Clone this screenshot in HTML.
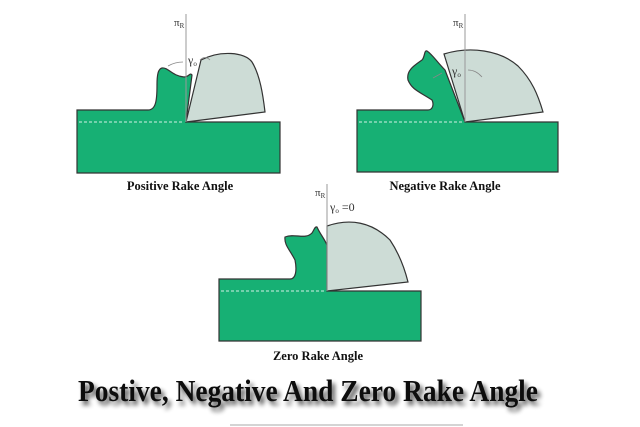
<!DOCTYPE html>
<html><head><meta charset="utf-8"><style>
body{margin:0;background:#fff;width:640px;height:427px;overflow:hidden;position:relative}
svg{position:absolute;left:0;top:0}
.t{font-family:"Liberation Serif",serif;font-weight:bold;fill:#111}
</style></head><body>
<svg width="640" height="427" viewBox="0 0 640 427">
<g stroke="#333" stroke-width="1.2">
<!-- Positive -->
<path d="M77,110 L148,110 C156,110 157,100 157,85 C157,75 158,69 162,68 C168,67 172,76 184,77 C189,77 190,72 192,75 L186,122 L280,122 L280,173 L77,173 Z" fill="#17b074"/>
<path d="M186,122 L201,60 C220,50 245,52 252,62 C260,75 263,95 265,112 Z" fill="#cddcd6"/>
<line x1="186" y1="14" x2="186" y2="122" stroke="#999" stroke-width="1"/>
<!-- Negative -->
<path d="M357,110 L428,110 C433,110 434,104 432,100 C420,92 412,90 408,80 C406,70 415,65 422,60 C425,57 424,50 427,51 C432,54 437,62 445,70 L465,122 L558,122 L558,172 L357,172 Z" fill="#17b074"/>
<path d="M465,122 L444,54 C470,46 500,50 518,66 C532,80 538,95 543,112 Z" fill="#cddcd6"/>
<line x1="465" y1="14" x2="465" y2="122" stroke="#999" stroke-width="1"/>
<!-- Zero -->
<path d="M219,279 L290,279 C296,279 297,270 295,260 C290,250 284,245 285,237 C295,233 305,240 312,233 C314,230 315,226 317,227 C320,234 324,238 327,245 L327,291 L421,291 L421,341 L219,341 Z" fill="#17b074"/>
<path d="M327,291 L327,226 C350,218 372,222 390,240 C400,255 405,270 408,282 Z" fill="#cddcd6"/>
<line x1="327" y1="184" x2="327" y2="291" stroke="#999" stroke-width="1"/>
</g>
<g stroke="#fff" stroke-width="1" stroke-dasharray="3,2" opacity="0.8">
<line x1="79" y1="122" x2="184" y2="122"/>
<line x1="359" y1="122" x2="463" y2="122"/>
<line x1="221" y1="291" x2="325" y2="291"/>
</g>
<g fill="none" stroke="#888" stroke-width="0.8">
<path d="M168,66 Q175,62 183,62"/><path d="M210,60 Q205,55 200,60"/>
<path d="M433,78 L442,73"/><path d="M482,77 Q476,70 468,70"/>
</g>
<g font-family="Liberation Serif,serif" fill="#333" font-size="11">
<text x="174" y="26">π<tspan font-size="7" dy="2">R</tspan></text>
<text x="188" y="64" font-size="12">γ<tspan font-size="7" dy="2">o</tspan></text>
<text x="453" y="26">π<tspan font-size="7" dy="2">R</tspan></text>
<text x="452" y="75" font-size="12">γ<tspan font-size="7" dy="2">o</tspan></text>
<text x="315" y="196">π<tspan font-size="7" dy="2">R</tspan></text>
<text x="330" y="211" font-size="12">γ<tspan font-size="7" dy="2">o</tspan><tspan dy="-2"> =0</tspan></text>
</g>
<text class="t" x="180" y="190" font-size="12.5" text-anchor="middle">Positive Rake Angle</text>
<text class="t" x="445" y="190" font-size="12.5" text-anchor="middle">Negative Rake Angle</text>
<text class="t" x="318" y="360" font-size="12.5" text-anchor="middle">Zero Rake Angle</text>
<defs><filter id="s" x="-10%" y="-30%" width="120%" height="160%"><feGaussianBlur in="SourceAlpha" stdDeviation="2.5"/><feOffset dx="3" dy="4"/><feComponentTransfer><feFuncA type="linear" slope="0.7"/></feComponentTransfer><feMerge><feMergeNode/><feMergeNode in="SourceGraphic"/></feMerge></filter></defs>
<text x="308" y="401" font-family="Liberation Serif,serif" font-size="31" font-weight="bold" fill="#111" text-anchor="middle" filter="url(#s)" textLength="460" lengthAdjust="spacingAndGlyphs">Postive, Negative And Zero Rake Angle</text>
<line x1="230" y1="425" x2="463" y2="425" stroke="#aaa" stroke-width="1"/>
</svg>
</body></html>
